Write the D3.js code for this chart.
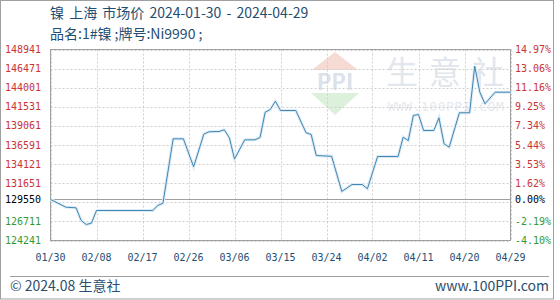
<!DOCTYPE html>
<html>
<head>
<meta charset="utf-8">
<script src="https://cdn.jsdelivr.net/npm/d3@7"></script>
<style>
    body {margin: 0; background: #fff;}
    text {font-family: "DejaVu Sans Mono", monospace;}
    .cjk {font-family: "Noto Sans CJK SC", "Noto Sans", sans-serif;}
</style>
</head>
<body>
<svg id="svg_main"></svg>
<script>
// price series (vertices; flat spans in between)
const dates = ['2024-01-30', '2024-02-02', '2024-02-04', '2024-02-05', '2024-02-06', '2024-02-07', '2024-02-08',
    '2024-02-19', '2024-02-20', '2024-02-21', '2024-02-23', '2024-02-25', '2024-02-27', '2024-02-29',
    '2024-03-01', '2024-03-03', '2024-03-04', '2024-03-05', '2024-03-06', '2024-03-08', '2024-03-10',
    '2024-03-11', '2024-03-12', '2024-03-13', '2024-03-14', '2024-03-15', '2024-03-18', '2024-03-20',
    '2024-03-21', '2024-03-22', '2024-03-25', '2024-03-27', '2024-03-28', '2024-03-29', '2024-03-31',
    '2024-04-01', '2024-04-03', '2024-04-07', '2024-04-08', '2024-04-09', '2024-04-10', '2024-04-11',
    '2024-04-12', '2024-04-14', '2024-04-15', '2024-04-16', '2024-04-17', '2024-04-19', '2024-04-21',
    '2024-04-22', '2024-04-23', '2024-04-24', '2024-04-26', '2024-04-29'];
const prices = [129550, 128550, 128470, 126830, 126310, 126480, 128120,
    128120, 128770, 129060, 137390, 137390, 133770, 137990,
    138300, 138340, 138560, 137520, 134770, 137260, 137260,
    137560, 140830, 141180, 142260, 141050, 141050, 138180,
    137950, 135230, 135130, 130580, 131030, 131480, 131480,
    130930, 135100, 135100, 137600, 137170, 140410, 140540,
    138470, 138470, 140110, 136750, 136310, 140760, 140760,
    146780, 143420, 141920, 143420, 143420];

const basePrice = 129550;
const gridValues = [148941, 146471, 144001, 141531, 139061, 136591, 134121, 131651, 129181, 126711, 124241];
const leftLabels = [148941, 146471, 144001, 141531, 139061, 136591, 134121, 131651, 129550, 126711, 124241];
const rightLabels = ['14.97%', '13.06%', '11.16%', '9.25%', '7.34%', '5.44%', '3.53%', '1.62%', '0.00%', '-2.19%', '-4.10%'];
const xTicks = ['2024-01-30', '2024-02-08', '2024-02-17', '2024-02-26', '2024-03-06', '2024-03-15',
    '2024-03-24', '2024-04-02', '2024-04-11', '2024-04-20', '2024-04-29'];

const width = 560, height = 300;
const pLeft = 50.5, pRight = 510.5, pTop = 49.5, pBottom = 240.5;
const parse = d3.timeParse('%Y-%m-%d');

const svg = d3.select('#svg_main')
    .attr('width', width)
    .attr('height', height);

const x = d3.scaleTime()
    .domain([parse(xTicks[0]), parse(xTicks[xTicks.length - 1])])
    .range([pLeft, pRight]);
const y = d3.scaleLinear()
    .domain([124241, 148941])
    .range([pBottom, pTop]);

const valColor = v => v > basePrice ? '#cc3333' : (v < basePrice ? '#339933' : '#000');

// outer frame
svg.append('rect')
    .attr('x', 0.5).attr('y', 0.5)
    .attr('width', 553).attr('height', 298.5)
    .attr('fill', '#fff').attr('stroke', '#a0a0a0');

// titles
svg.append('text').attr('class', 'cjk')
    .attr('x', 50).attr('y', 18)
    .attr('fill', '#1f4e72').attr('font-size', 14)
    .attr('word-spacing', 2)
    .text('镍 上海 市场价 2024-01-30 - 2024-04-29');
svg.append('text').attr('class', 'cjk')
    .attr('x', 50).attr('y', 38.5)
    .attr('fill', '#1f4e72').attr('font-size', 14)
    .text('品名:1#镍 ;牌号:Ni9990 ;');

// watermark
const wm = svg.append('g').attr('class', 'watermark');
wm.append('path')
    .attr('d', 'M335,52 L358,70 L312,70 Z')
    .attr('fill', '#f6dad4');
wm.append('text').attr('class', 'cjk')
    .attr('x', 335).attr('y', 90)
    .attr('text-anchor', 'middle')
    .attr('font-size', 22).attr('font-weight', 'bold')
    .attr('fill', '#dce2ec')
    .text('PPI');
wm.append('path')
    .attr('d', 'M311,93 L359,93 L335,115 Z')
    .attr('fill', '#ddf0db');
wm.append('text').attr('class', 'cjk')
    .attr('x', 386).attr('y', 84)
    .attr('font-size', 32)
    .attr('letter-spacing', 11)
    .attr('fill', '#e2e6ed')
    .text('生意社');
wm.append('text')
    .attr('x', 446).attr('y', 111)
    .attr('text-anchor', 'middle')
    .attr('font-size', 13)
    .attr('letter-spacing', 0.5)
    .attr('fill', '#e5e8ee')
    .text('WWW.100PPI.COM');

// grid
svg.append('g')
    .selectAll('line')
    .data(gridValues)
    .join('line')
    .attr('x1', pLeft).attr('x2', pRight)
    .attr('y1', d => Math.round(y(d)) + 0.5)
    .attr('y2', d => Math.round(y(d)) + 0.5)
    .attr('stroke', '#cfcfcf')
    .attr('stroke-dasharray', '2,2');
svg.append('g')
    .selectAll('line')
    .data(xTicks)
    .join('line')
    .attr('x1', d => Math.round(x(parse(d))) + 0.5)
    .attr('x2', d => Math.round(x(parse(d))) + 0.5)
    .attr('y1', pTop).attr('y2', pBottom)
    .attr('stroke', '#cfcfcf')
    .attr('stroke-dasharray', '2,2');

// plot border + base line
svg.append('rect')
    .attr('x', pLeft).attr('y', pTop)
    .attr('width', pRight - pLeft).attr('height', pBottom - pTop)
    .attr('fill', 'none').attr('stroke', '#a0a0a0');
svg.append('line')
    .attr('x1', pLeft).attr('x2', pRight)
    .attr('y1', Math.round(y(basePrice)) + 0.5)
    .attr('y2', Math.round(y(basePrice)) + 0.5)
    .attr('stroke', '#a0a0a0');

// left / right labels
svg.append('g')
    .selectAll('text')
    .data(leftLabels)
    .join('text')
    .attr('x', 41)
    .attr('y', d => y(d))
    .attr('dy', '0.35em')
    .attr('text-anchor', 'end')
    .attr('font-size', 10)
    .attr('fill', valColor)
    .text(d => d);
svg.append('g')
    .selectAll('text')
    .data(rightLabels)
    .join('text')
    .attr('x', 515)
    .attr('y', (d, i) => y(leftLabels[i]))
    .attr('dy', '0.35em')
    .attr('font-size', 10)
    .attr('fill', (d, i) => valColor(leftLabels[i]))
    .text(d => d);

// x axis labels
svg.append('g')
    .selectAll('text')
    .data(xTicks)
    .join('text')
    .attr('x', d => x(parse(d)))
    .attr('y', 257)
    .attr('dy', '0.35em')
    .attr('text-anchor', 'middle')
    .attr('font-size', 10)
    .attr('fill', '#1f4e72')
    .text(d => d3.timeFormat('%m/%d')(parse(d)));

// price line
const series = dates.map((d, i) => ({date: parse(d), value: prices[i]}));
const line = d3.line().x(d => x(d.date)).y(d => y(d.value));
svg.append('path')
    .datum(series)
    .attr('d', line)
    .attr('fill', 'none')
    .attr('stroke', '#dcebf5')
    .attr('stroke-width', 3);
svg.append('path')
    .datum(series)
    .attr('d', line)
    .attr('fill', 'none')
    .attr('stroke', '#4286b3')
    .attr('stroke-width', 1);

// footer
svg.append('line')
    .attr('x1', 10).attr('x2', 549)
    .attr('y1', 276.5).attr('y2', 276.5)
    .attr('stroke', '#a0a0a0');
svg.append('text').attr('class', 'cjk')
    .attr('x', 10).attr('y', 291)
    .attr('font-size', 14)
    .attr('fill', '#2c4e6e')
    .text('© 2024.08 生意社');
svg.append('text').attr('class', 'cjk')
    .attr('x', 549).attr('y', 291)
    .attr('text-anchor', 'end')
    .attr('font-size', 14)
    .attr('fill', '#2c4e6e')
    .text('www.100PPI.com');
</script>
</body>
</html>
